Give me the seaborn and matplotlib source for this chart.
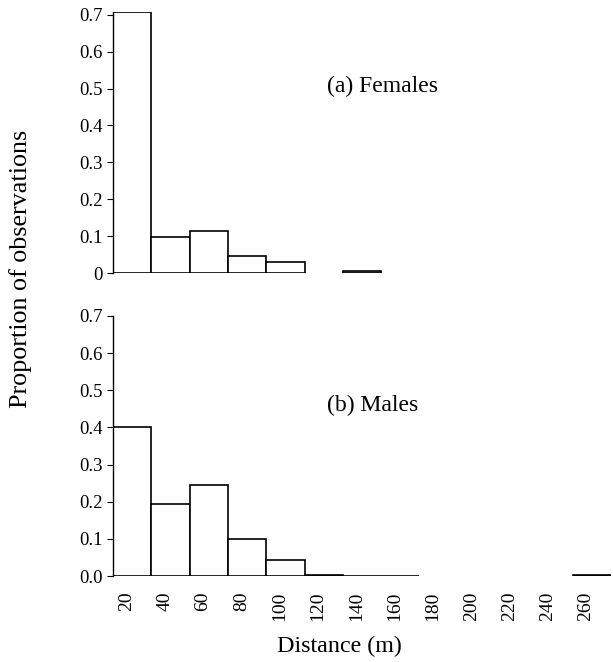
import numpy as np
import pandas as pd
import matplotlib
matplotlib.use("Agg")
import matplotlib.pyplot as plt
import seaborn as sns

# Datos (proporción de observaciones por clase de distancia)
distances = ["20", "40", "60", "80", "100", "120", "140", "160",
             "180", "200", "220", "240", "260"]
females = [0.707, 0.098, 0.115, 0.047, 0.029, np.nan, 0.005, np.nan,
           np.nan, np.nan, np.nan, np.nan, np.nan]
males = [0.400, 0.195, 0.246, 0.099, 0.043, 0.002, 0.001, 0.001,
         np.nan, np.nan, np.nan, np.nan, 0.002]
yticks = [0, 0.1, 0.2, 0.3, 0.4, 0.5, 0.6, 0.7]
ylabels_top = ["0", "0.1", "0.2", "0.3", "0.4", "0.5", "0.6", "0.7"]
ylabels_bottom = ["0.0", "0.1", "0.2", "0.3", "0.4", "0.5", "0.6", "0.7"]

sns.set_style("ticks")
plt.rcParams['font.family'] = ['Liberation Serif', 'DejaVu Serif']
plt.rcParams['text.color'] = 'black'
plt.rcParams['xtick.color'] = 'black'
plt.rcParams['ytick.color'] = 'black'
plt.rcParams['axes.edgecolor'] = 'black'
plt.rcParams['axes.linewidth'] = 1.0
plt.rcParams['ytick.major.size'] = 4

df = pd.DataFrame({"distance": distances, "Females": females, "Males": males})

fig = plt.figure(figsize=(6.13, 6.62), dpi=100)
ax_top = fig.add_axes([0.1843, 0.5876, 0.8124, 0.3944])
ax_bot = fig.add_axes([0.1843, 0.1299, 0.8124, 0.3928])

for ax, col, ylab, label, ty in [(ax_top, "Females", ylabels_top, "(a) Females", 0.713),
                                 (ax_bot, "Males", ylabels_bottom, "(b) Males", 0.654)]:
    sns.barplot(data=df, x="distance", y=col, order=distances, ax=ax,
                color="white", edgecolor="black", linewidth=1.2, width=1.0,
                saturation=1, errorbar=None)
    ax.set_xlim(-0.5, 12.5)
    ax.set_yticks(yticks)
    ax.set_yticklabels(ylab, fontsize=13.5)
    ax.set_xlabel("")
    ax.set_ylabel("")
    sns.despine(ax=ax, top=True, right=True, bottom=True)
    ax.tick_params(axis="x", length=0)
    ax.text(0.43, ty, label, transform=ax.transAxes, fontsize=17,
            va="center", ha="left")

ax_top.set_ylim(0, 0.708)
ax_top.set_xticks([])
# barra gris de la clase de 140 m en hembras
for p in ax_top.patches:
    if abs(p.get_x() + p.get_width() / 2 - distances.index("140")) < 0.1:
        p.set_facecolor("#999999")

ax_bot.set_ylim(0, 0.7)
ax_bot.set_xticks(np.arange(len(distances)) - 0.15)
ax_bot.set_xticklabels(distances, rotation=90, fontsize=14, va="top")
ax_bot.tick_params(axis="x", pad=11)

fig.text(0.034, 0.594, "Proportion of observations", rotation=90,
         fontsize=18.8, va="center", ha="center")
fig.text(0.553, 0.024, "Distance (m)", fontsize=17.3, va="center", ha="center")

fig.savefig("out.png", dpi=100)
